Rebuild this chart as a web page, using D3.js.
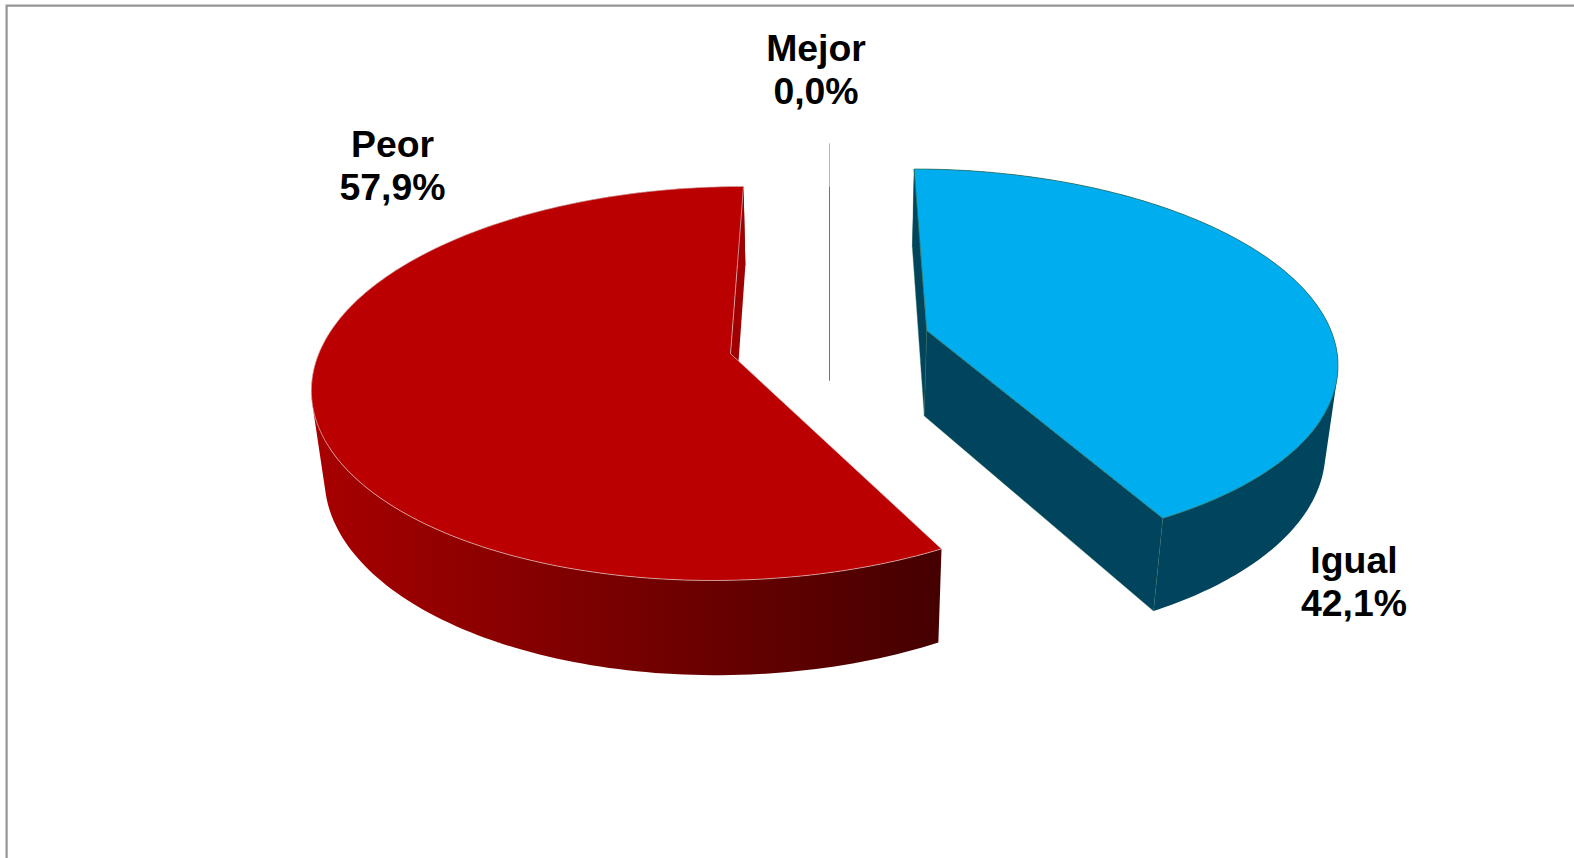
<!DOCTYPE html>
<html>
<head>
<meta charset="utf-8">
<script src="https://cdn.jsdelivr.net/npm/d3@7/dist/d3.min.js"></script>
<style>
html,body{margin:0;padding:0;background:#fff;overflow:hidden}
svg{display:block}
text{font-family:"Liberation Sans",Arial,sans-serif;font-weight:700;font-size:37.4px;fill:#000;text-anchor:middle}
</style>
</head>
<body>
<svg id="c" width="1574" height="858"></svg>
<script>
// ---- data ----
const categories = ["Mejor", "Igual", "Peor"];
const values = [0.0, 42.1, 57.9];
const valueLabels = ["0,0%", "42,1%", "57,9%"];

// ---- look ----
const W = 1574, H = 858;
const topColors  = {Mejor:"#c9b98c", Igual:"#00aeef", Peor:"#ba0000"};
const wallColors = {Mejor:"#9a6e1e", Igual:"#00445e", Peor:"#a00000"};
const edgeColors = {Mejor:"none", Igual:"#2f6b52", Peor:"#e2c4c4"};
const explode = 0.248;     // slice explosion, as fraction of the radius
const persp = 0.15, perspDepth = 0.025; // perspective strengths
const labelAnchors = {Mejor:[816,61], Igual:[1354,573], Peor:[392.5,157]};
const lineGap = 43.4;
const sliverFade = 0.31;   // part of the zero slice drawn in the light colour

const svg = d3.select("#c");

// plane -> screen scales
const sx = d3.scaleLinear().domain([-1,1]).range([829.5-408, 829.5+408]);
const sy = d3.scaleLinear().domain([-1,1]).range([342-189, 342+189]);
const depth = 88/189;      // pie thickness in plane units

function project(u, v, z) {
  const w = 1 - persp*v + perspDepth*z;
  return [sx(u/w), sy((v + depth*z)/w)];
}
// point of slice at angle a (clockwise from top), radius r, level z
function slicePoint(mid, a, r, z) {
  const ox = explode*Math.sin(mid), oy = -explode*Math.cos(mid);
  return project(ox + r*Math.sin(a), oy - r*Math.cos(a), z);
}

const pie = d3.pie().sort(null).value(d => d.value);
const slices = pie(categories.map((c,i)=>({cat:c, value:values[i], label:valueLabels[i]})));

const defs = svg.append("defs");
const grad = defs.append("linearGradient").attr("id","peorWall")
  .attr("gradientUnits","userSpaceOnUse").attr("x1",311).attr("x2",941).attr("y1",0).attr("y2",0);
grad.append("stop").attr("offset",0).attr("stop-color","#a80000");
grad.append("stop").attr("offset",1).attr("stop-color","#450000");

// frame
svg.append("path").attr("d",`M6.6,${H} L6.6,5.6 L${W},5.6`)
  .attr("fill","none").attr("stroke","#969696").attr("stroke-width",2.2);

const line = d3.line();
function angles(s){
  const n = 180, scale = d3.scaleLinear().domain([0,n]).range([s.startAngle,s.endAngle]);
  return d3.range(n+1).map(scale);
}
function quadPath(pts){
  const area = d3.polygonArea(pts);
  return line(area < 0 ? pts.slice().reverse() : pts) + "Z";
}

// draw order: Peor, Mejor, Igual
const g = svg.append("g");
["Peor","Mejor","Igual"].forEach(cat => {
  const s = slices.find(d => d.data.cat === cat);
  const mid = (s.startAngle + s.endAngle)/2;
  if (s.value === 0) {
    const top = slicePoint(mid, mid, 1, 0), apex = slicePoint(mid, mid, 0, 1);
    const cut = slicePoint(mid, mid, 1 - sliverFade, 0);
    g.append("path").attr("d",line([top,cut])).attr("stroke",topColors[cat]).attr("stroke-width",1).attr("fill","none");
    g.append("path").attr("d",line([cut,apex])).attr("stroke",wallColors[cat]).attr("stroke-width",1).attr("fill","none");
    return;
  }
  const ang = angles(s);
  const wallFill = cat === "Peor" ? "url(#peorWall)" : wallColors[cat];
  // outer wall: union of quads
  const d = d3.pairs(ang).map(([a,b]) => quadPath([
    slicePoint(mid,a,1,0),slicePoint(mid,b,1,0),slicePoint(mid,b,1,1),slicePoint(mid,a,1,1)
  ])).join("");
  g.append("path").attr("d",d).attr("fill",wallFill).attr("stroke","none");
  // flat cut faces
  [s.startAngle, s.endAngle].forEach(a => {
    if (cat === "Peor" && a === s.startAngle) return; // faces away, hidden behind the pie
    g.append("path")
      .attr("d", quadPath([slicePoint(mid,a,0,0),slicePoint(mid,a,1,0),slicePoint(mid,a,1,1),slicePoint(mid,a,0,1)]))
      .attr("fill", wallColors[cat]).attr("stroke",cat==="Igual"?edgeColors[cat]:"none").attr("stroke-width",0.4);
  });
  // top face
  const topPts = [slicePoint(mid,s.startAngle,0,0)].concat(ang.map(a => slicePoint(mid,a,1,0)));
  g.append("path").attr("d",line(topPts)+"Z").attr("fill",topColors[cat])
    .attr("stroke",edgeColors[cat]).attr("stroke-width",0.7).attr("stroke-linejoin","round");
});

// labels
slices.forEach(s => {
  const [x,y] = labelAnchors[s.data.cat];
  const t = svg.append("text").attr("x",x).attr("y",y);
  t.append("tspan").attr("x",x).text(s.data.cat);
  t.append("tspan").attr("x",x).attr("dy",lineGap).text(s.data.label);
});
</script>
</body>
</html>
